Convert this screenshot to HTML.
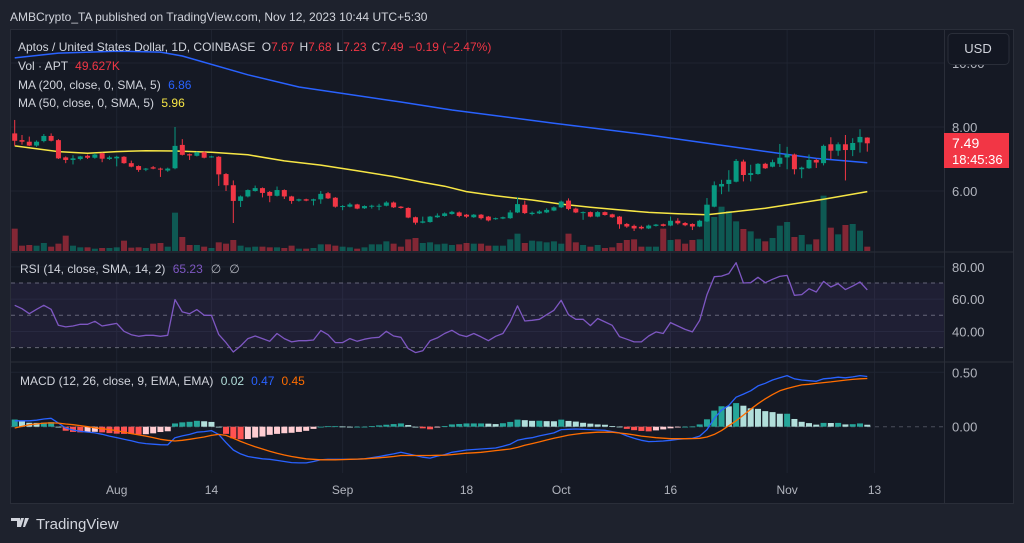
<!DOCTYPE html>
<html><head><meta charset="utf-8"><style>
html,body{margin:0;padding:0;background:#1e222d;}
svg{display:block;font-family:"Liberation Sans",sans-serif;}
</style></head><body>
<svg id="chart" width="1024" height="543" viewBox="0 0 1024 543" xmlns="http://www.w3.org/2000/svg">
<rect x="0" y="0" width="1024" height="543" fill="#1e222d"/>
<text x="10" y="21" font-size="12" fill="#d1d4dc">AMBCrypto_TA published on TradingView.com, Nov 12, 2023 10:44 UTC+5:30</text>
<rect x="10.5" y="29.5" width="1003" height="474" fill="#151924" stroke="#2a2e39"/>
<g id="grid"></g>
<rect x="11" y="282.7" width="933" height="64.6" fill="#7e57c2" fill-opacity="0.1"/>
<g id="marks"></g>
<line x1="11" y1="252" x2="1013" y2="252" stroke="#2a2e39"/>
<line x1="11" y1="362" x2="1013" y2="362" stroke="#2a2e39"/>
<line x1="944.5" y1="30" x2="944.5" y2="503" stroke="#2a2e39"/>
<g id="axes" font-size="13" fill="#b2b5be"></g>
<rect x="948" y="33.5" width="61" height="31" rx="4" fill="#131722" stroke="#2a2e39"/>
<text x="978" y="53" font-size="13" fill="#d1d4dc" text-anchor="middle">USD</text>
<g font-size="12">
<text x="18" y="51" fill="#d1d4dc">Aptos / United States Dollar, 1D, COINBASE <tspan fill="#d1d4dc" dx="3">O</tspan><tspan fill="#f23645">7.67</tspan><tspan fill="#d1d4dc" dx="5">H</tspan><tspan fill="#f23645">7.68</tspan><tspan fill="#d1d4dc" dx="5">L</tspan><tspan fill="#f23645">7.23</tspan><tspan fill="#d1d4dc" dx="5">C</tspan><tspan fill="#f23645">7.49</tspan><tspan fill="#f23645" dx="5">−0.19 (−2.47%)</tspan></text>
<text x="18" y="70" fill="#d1d4dc">Vol · APT <tspan fill="#f23645" dx="4">49.627K</tspan></text>
<text x="18" y="89" fill="#d1d4dc">MA (200, close, 0, SMA, 5) <tspan fill="#2962ff" dx="4">6.86</tspan></text>
<text x="18" y="107" fill="#d1d4dc">MA (50, close, 0, SMA, 5) <tspan fill="#f7e645" dx="4">5.96</tspan></text>
<text x="20" y="273" fill="#d1d4dc">RSI (14, close, SMA, 14, 2) <tspan fill="#7e57c2" dx="4">65.23</tspan><tspan fill="#b2b5be" dx="8">∅</tspan><tspan fill="#b2b5be" dx="8">∅</tspan></text>
<text x="20" y="385" fill="#d1d4dc">MACD (12, 26, close, 9, EMA, EMA) <tspan fill="#b2dfdb" dx="4">0.02</tspan><tspan fill="#2962ff" dx="7">0.47</tspan><tspan fill="#ff6d00" dx="7">0.45</tspan></text>
</g>
<rect x="944" y="133" width="65" height="35" fill="#f23645"/>
<text x="952" y="148" font-size="14" fill="#ffffff">7.49</text>
<text x="952" y="164" font-size="13" fill="#ffffff">18:45:36</text>
<g>
<path d="M11 518h9v9h-3v-6h-6z M21 518h3l-3 9h-3z M25 518h4l-4 9h-2z" fill="#d1d4dc"/>
<text x="36" y="529" font-size="15" fill="#d1d4dc">TradingView</text>
</g>
</svg>
<script>
const opens=[7.80,7.59,7.54,7.42,7.56,7.72,7.59,7.05,6.97,7.00,7.10,7.04,7.18,7.00,7.02,7.07,6.87,6.78,6.68,6.74,6.70,6.64,6.71,7.44,7.15,7.10,7.21,7.06,7.07,6.53,6.18,5.69,5.83,6.00,6.09,5.97,5.85,6.03,5.83,5.70,5.74,5.70,5.74,5.93,5.79,5.50,5.51,5.58,5.46,5.51,5.51,5.54,5.64,5.51,5.47,5.18,5.01,5.03,5.18,5.22,5.28,5.33,5.26,5.18,5.26,5.20,5.12,5.14,5.15,5.33,5.57,5.28,5.30,5.33,5.39,5.49,5.70,5.45,5.31,5.34,5.20,5.34,5.27,5.20,4.97,4.91,4.88,4.83,4.91,4.96,4.92,5.07,5.00,4.97,4.89,5.05,5.51,6.14,6.22,6.29,6.92,6.50,6.53,6.85,6.76,6.85,7.05,7.14,6.68,6.71,6.97,6.87,7.46,7.26,7.46,7.28,7.52,7.67];
const highs=[8.22,7.75,7.70,7.58,7.78,7.80,7.62,7.08,7.12,7.10,7.14,7.18,7.20,7.10,7.10,7.09,6.95,6.80,6.72,6.78,6.73,6.73,8.00,7.62,7.17,7.23,7.24,7.10,7.09,6.56,6.33,5.86,6.05,6.17,6.11,6.00,6.14,6.05,5.85,5.76,5.76,5.76,6.00,5.97,5.81,5.56,5.63,5.60,5.55,5.57,5.60,5.68,5.67,5.53,5.49,5.20,5.20,5.22,5.30,5.33,5.38,5.36,5.28,5.28,5.28,5.22,5.17,5.20,5.40,5.80,5.70,5.36,5.40,5.46,5.52,5.70,5.77,5.48,5.36,5.36,5.37,5.36,5.29,5.22,5.00,4.95,4.92,4.95,4.97,4.98,5.20,5.15,5.03,4.99,5.10,5.78,6.30,6.35,6.65,7.00,6.98,6.82,6.87,6.88,6.98,7.47,7.38,7.17,6.76,7.14,7.00,7.45,7.68,7.52,7.75,7.65,7.93,7.68];
const lows=[7.41,7.45,7.40,7.38,7.52,7.55,7.00,6.87,6.83,6.96,7.00,7.01,6.90,6.97,6.77,6.85,6.74,6.60,6.62,6.68,6.44,6.60,6.68,7.11,6.97,7.08,7.02,7.04,6.16,6.00,5.00,5.50,5.80,5.98,5.80,5.65,5.83,5.75,5.60,5.67,5.68,5.55,5.60,5.75,5.48,5.40,5.49,5.43,5.44,5.45,5.40,5.52,5.47,5.45,5.15,4.95,4.99,5.01,5.16,5.20,5.26,5.18,5.16,5.16,5.11,5.05,5.10,5.12,5.13,5.31,5.28,5.24,5.28,5.31,5.37,5.47,5.40,5.31,5.10,5.18,5.18,5.23,5.16,4.82,4.85,4.75,4.80,4.81,4.89,4.89,4.90,4.95,4.90,4.78,4.87,5.03,5.49,5.90,5.98,6.27,6.30,6.30,6.51,6.69,6.74,6.75,6.68,6.52,6.40,6.69,6.72,6.80,7.00,7.10,6.33,7.09,7.20,7.23];
const closes=[7.57,7.54,7.42,7.54,7.72,7.57,7.02,6.97,7.02,7.08,7.04,7.14,7.01,7.05,7.07,6.87,6.76,6.66,6.70,6.70,6.68,6.70,7.41,7.13,7.11,7.21,7.04,7.08,6.52,6.18,5.69,5.83,6.03,6.09,5.94,5.85,6.03,5.83,5.69,5.74,5.70,5.74,5.91,5.77,5.51,5.53,5.58,5.45,5.53,5.54,5.54,5.64,5.49,5.47,5.17,5.01,5.05,5.20,5.23,5.30,5.35,5.22,5.20,5.26,5.15,5.08,5.15,5.18,5.33,5.59,5.31,5.32,5.36,5.41,5.49,5.67,5.44,5.33,5.34,5.20,5.34,5.25,5.18,4.96,4.89,4.83,4.83,4.92,4.95,4.91,5.07,4.99,4.93,4.89,5.07,5.57,6.18,6.22,6.35,6.94,6.50,6.56,6.85,6.71,6.90,7.04,7.14,6.68,6.73,6.97,6.89,7.41,7.26,7.46,7.28,7.50,7.69,7.49];
const volumes=[67,16,18,16,24,13,22,46,16,11,11,7,9,9,11,31,10,11,9,22,24,13,115,42,18,18,13,9,26,22,33,16,11,13,13,11,11,9,16,7,7,9,20,20,16,13,11,7,11,20,20,29,22,13,35,39,24,26,20,22,18,20,24,22,22,16,16,16,35,52,24,31,29,26,29,22,52,26,18,13,18,9,11,24,33,35,13,13,13,67,33,35,22,33,35,139,102,133,120,89,66,59,37,29,39,76,87,42,48,20,35,166,70,50,78,81,61,13];
const rsiVals=[56.2,54.1,51.0,53.7,56.2,53.7,43.8,42.8,43.4,44.4,44.4,46.3,43.4,44.2,45.0,40.1,38.0,37.0,37.6,37.6,37.0,37.6,59.7,52.1,51.0,53.5,50.0,50.0,38.2,33.1,27.3,31.0,35.6,37.2,35.6,33.9,38.7,35.6,33.5,34.3,34.3,34.7,40.5,38.0,33.1,33.1,35.6,33.9,35.2,36.0,36.4,40.1,37.2,36.4,29.4,26.9,28.1,34.3,36.0,38.7,40.7,38.0,36.8,38.7,36.6,34.3,37.0,38.7,45.9,55.8,46.5,46.9,47.5,50.4,53.1,59.3,50.4,47.5,47.5,43.6,48.0,45.9,43.8,36.8,35.2,33.5,33.5,37.2,39.7,38.7,45.5,43.4,41.3,39.7,46.9,62.8,73.9,74.3,75.8,82.6,70.0,70.2,73.5,70.2,72.3,74.1,74.7,62.4,62.8,66.5,64.4,71.0,67.5,69.6,65.9,68.1,70.6,65.7];
const macdVals=[.054,.054,.054,.06,.071,.077,.033,-.012,-.03,-.042,-.05,-.057,-.07,-.086,-.10,-.116,-.13,-.146,-.155,-.161,-.165,-.167,-.101,-.085,-.071,-.051,-.045,-.036,-.071,-.146,-.214,-.25,-.274,-.285,-.295,-.30,-.31,-.32,-.33,-.333,-.333,-.32,-.304,-.30,-.30,-.30,-.30,-.298,-.295,-.285,-.274,-.262,-.25,-.235,-.25,-.265,-.28,-.289,-.27,-.256,-.235,-.225,-.214,-.21,-.205,-.20,-.196,-.18,-.161,-.125,-.11,-.101,-.085,-.071,-.057,-.027,-.024,-.021,-.024,-.027,-.03,-.033,-.045,-.057,-.085,-.107,-.125,-.137,-.135,-.131,-.125,-.116,-.11,-.107,-.086,-.027,.077,.152,.196,.271,.30,.33,.375,.399,.429,.449,.47,.44,.429,.423,.417,.44,.446,.455,.449,.458,.47,.461];
const signalVals=[-.012,.003,.018,.025,.033,.035,.033,.025,.018,.01,0,-.01,-.018,-.027,-.036,-.05,-.063,-.075,-.086,-.10,-.116,-.125,-.131,-.125,-.116,-.105,-.095,-.08,-.071,-.08,-.107,-.135,-.161,-.185,-.205,-.225,-.244,-.26,-.274,-.285,-.295,-.30,-.304,-.304,-.304,-.302,-.30,-.298,-.295,-.29,-.286,-.28,-.274,-.265,-.265,-.265,-.265,-.265,-.263,-.262,-.256,-.25,-.244,-.24,-.235,-.228,-.22,-.212,-.205,-.19,-.17,-.155,-.14,-.122,-.107,-.092,-.077,-.068,-.06,-.055,-.051,-.051,-.051,-.058,-.065,-.075,-.086,-.094,-.101,-.106,-.11,-.11,-.11,-.109,-.107,-.095,-.071,-.036,.009,.054,.107,.161,.211,.256,.295,.33,.351,.369,.384,.39,.398,.405,.412,.42,.428,.435,.44,.443];
const ma50Idx=[1,7,11,15,19,23,28,33,38,43,48,53,57,60,63,67,72,76,80,84,88,92,96,100,104,108,112,118];
const ma50Vals=[7.41,7.23,7.18,7.23,7.26,7.25,7.21,7.13,6.94,6.81,6.63,6.45,6.27,6.15,5.98,5.85,5.72,5.59,5.49,5.41,5.33,5.29,5.26,5.36,5.46,5.60,5.74,5.98];
const ma200Idx=[1,7,15,21,24,33,40,54,61,75,88,102,111,118];
const ma200Vals=[10.16,10.31,10.37,10.34,10.22,9.63,9.25,8.78,8.53,8.12,7.75,7.30,7.02,6.88];
const priceTicks=[10,8,6];
const rsiTicks=[80,60,40];
const macdTicks=[0.5,0];
const timeLabels=["Aug","14","Sep","18","Oct","16","Nov","13"];
const timeLabelIdx=[15,28,46,63,76,91,107,119];

const NS="http://www.w3.org/2000/svg";
const xOf=i=>14.7+7.287*(i-1);
const yP=p=>127+(8-p)*32;
const yV=v=>251-v/3;
const yR=v=>315.3-(v-50)*1.615;
const yM=v=>426.7-v*108.8;
function mk(tag,attrs,parent){const e=document.createElementNS(NS,tag);for(const k in attrs)e.setAttribute(k,attrs[k]);parent.appendChild(e);return e;}
const grid=document.getElementById('grid'),marks=document.getElementById('marks'),axes=document.getElementById('axes');
const svgRoot=document.getElementById('chart');
const defs=mk('defs',{},svgRoot);
svgRoot.insertBefore(defs,svgRoot.firstChild);
[['cp-main',30,222],['cp-rsi',252,110],['cp-macd',362,111]].forEach(c=>{const cp=mk('clipPath',{id:c[0]},defs);mk('rect',{x:11,y:c[1],width:933,height:c[2]},cp);});
timeLabelIdx.forEach((ix,k)=>{
 const gl=mk('line',{x1:xOf(ix),x2:xOf(ix),y1:30,y2:473,stroke:'#1f2431'},grid);
 
 
 const t=mk('text',{x:xOf(ix),y:494,'text-anchor':'middle','font-size':12},axes);t.textContent=timeLabels[k];
 
 
});
priceTicks.forEach(p=>{
 const gl=mk('line',{x1:11,x2:944,y1:yP(p),y2:yP(p),stroke:'#1f2431'},grid);
 
 
 const t=mk('text',{x:952,y:yP(p)+5},axes);t.textContent=p.toFixed(2);
 
 
});
rsiTicks.forEach(v=>{
 const gl=mk('line',{x1:11,x2:944,y1:yR(v),y2:yR(v),stroke:'#1f2431'},grid);
 
 
 const t=mk('text',{x:952,y:yR(v)+5},axes);t.textContent=v.toFixed(2);
 
 
});
macdTicks.forEach(v=>{
 const gl=mk('line',{x1:11,x2:944,y1:yM(v),y2:yM(v),stroke:v===0?'#4a4e5a':'#1f2431','stroke-dasharray':v===0?'4 4':'none'},grid);
 
 
 const t=mk('text',{x:952,y:yM(v)+5},axes);t.textContent=v.toFixed(2);
 
 
});
[70,50,30].forEach(v=>{
 const dl=mk('line',{x1:11,x2:944,y1:yR(v),y2:yR(v),stroke:'#787b86','stroke-dasharray':'4 4','stroke-opacity':0.8},grid);
 
 
});
const gMain=mk('g',{'clip-path':'url(#cp-main)'},marks);
volumes.forEach((v,i)=>{
 const up=closes[i]>=opens[i];
 const r=mk('rect',{x:xOf(i+1)-3,y:yV(v),width:6,height:251-yV(v),fill:up?'#089981':'#f23645','fill-opacity':0.5},gMain);
 
 
});
function line(idx,vals,yf,color,parent,name,w){
 const d=vals.map((v,k)=>(k?'L':'M')+xOf(idx?idx[k]:k+1).toFixed(1)+' '+yf(v).toFixed(1)).join(' ');
 const p=mk('path',{d:d,fill:'none',stroke:color,'stroke-width':w||1.5,'stroke-linejoin':'round'},parent);
 
 
}
line(ma200Idx,ma200Vals,yP,'#2962ff',gMain,'ma200-line');
line(ma50Idx,ma50Vals,yP,'#f7e645',gMain,'ma50-line');
opens.forEach((o,i)=>{
 const c=closes[i],up=c>=o,col=up?'#089981':'#f23645',x=xOf(i+1);
 const g=mk('g',{},gMain);
 
 
 mk('line',{x1:x,x2:x,y1:yP(highs[i]),y2:yP(lows[i]),stroke:col,'stroke-width':1},g);
 const top=yP(Math.max(o,c)),bot=yP(Math.min(o,c));
 mk('rect',{x:x-2.5,y:top,width:5,height:Math.max(1,bot-top),fill:col},g);
});
const gR=mk('g',{'clip-path':'url(#cp-rsi)'},marks);
line(null,rsiVals,yR,'#7e57c2',gR,'rsi-line',1.3);
const gM=mk('g',{'clip-path':'url(#cp-macd)'},marks);
macdVals.forEach((m,i)=>{
 const h=m-signalVals[i],prev=i?macdVals[i-1]-signalVals[i-1]:h;
 const col=h>=0?(h>=prev?'#26a69a':'#b2dfdb'):(h<prev?'#ff5252':'#ffcdd2');
 const y0=yM(0),y1=yM(h);
 const r=mk('rect',{x:xOf(i+1)-3,y:Math.min(y0,y1),width:6,height:Math.max(0.8,Math.abs(y1-y0)),fill:col},gM);
 
 
});
line(null,macdVals,yM,'#2962ff',gM,'macd-line',1.3);
line(null,signalVals,yM,'#ff6d00',gM,'signal-line',1.3);
</script>
</body></html>
